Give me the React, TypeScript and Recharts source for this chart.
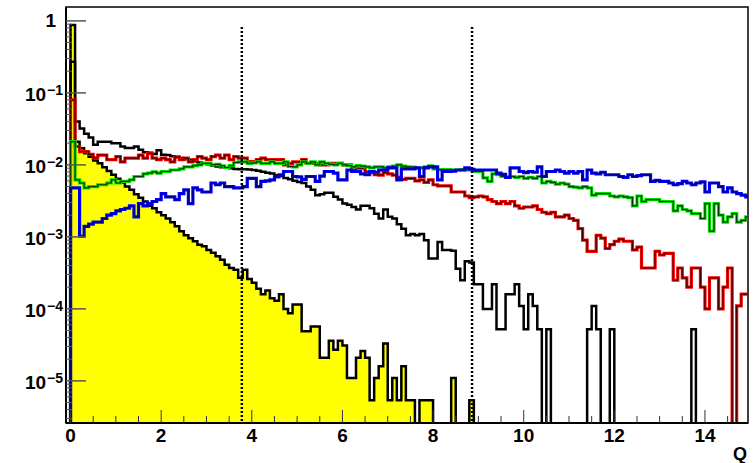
import React from 'react';
import { ComposedChart, Line, Area, XAxis, YAxis, ReferenceLine, ReferenceArea, Label } from 'recharts';

// ---- axis ranges ----
const X_RANGE = [-0.1, 14.95];
const Y_RANGE = [2.6e-6, 1.56];
const FLOOR = 1e-9; // stand-in for empty bins on the log scale

// ---- bins: 150 bins of width 0.1 starting at Q = 0 ----
const BIN_START = 0;
const BIN_WIDTH = 0.1;

// ---- tick values / labels ----
const X_TICKS = [0, 0.5, 1, 1.5, 2, 2.5, 3, 3.5, 4, 4.5, 5, 5.5, 6, 6.5, 7, 7.5, 8, 8.5, 9, 9.5, 10, 10.5, 11, 11.5, 12, 12.5, 13, 13.5, 14, 14.5];
const X_LABELS = [0, 2, 4, 6, 8, 10, 12, 14];
const Y_MAJOR = [1e-5, 1e-4, 1e-3, 1e-2, 1e-1, 1];
const Y_MANTISSAS = [1, 2, 3, 4, 5, 6, 7, 8, 9];
const Y_EXPONENTS = [-6, -5, -4, -3, -2, -1, 0];
const CUT_LINES = [3.78, 8.86];
const CUT_TOP = 0.82;
const X_TITLE = 'Q';

// ---- series (one value per bin) ----
const YELLOW = [
  0.88, 0.021, 0.017, 0.0145, 0.013, 0.0115, 0.0105, 0.0093, 0.0082, 0.0073,
  0.0064, 0.0057, 0.005, 0.0045, 0.0039, 0.0035, 0.0031, 0.0027, 0.0025, 0.0022,
  0.002, 0.0018, 0.0016, 0.0014, 0.0012, 0.00105, 0.00096, 0.00087, 0.00078, 0.00074,
  0.00066, 0.0006, 0.00054, 0.00048, 0.00041, 0.00037, 0.00035, 0.00027, 0.00035, 0.00026,
  0.00023, 0.00019, 0.00016, 0.00018, 0.00014, 0.00013, 0.00016, 0.0001, 8.7e-5, 0.000115,
  0.000115, 4.9e-5, 4.9e-5, 5.7e-5, 5.7e-5, 2.1e-5, 2.1e-5, 3.6e-5, 2.7e-5, 3.6e-5,
  3.1e-5, 1.1e-5, 1.1e-5, 2.1e-5, 2.6e-5, 2.1e-5, 5.4e-6, 1.1e-5, 1.6e-5, 3.3e-5,
  5.4e-6, 1.1e-5, 5.4e-6, 1.6e-5, 5.4e-6, 5.4e-6, 0, 5.4e-6, 5.4e-6, 5.4e-6,
  0, 0, 0, 0, 1.1e-5, 0, 0, 0, 5.4e-6, 0,
  0, 0, 0, 0, 0, 0, 0, 0, 0, 0,
  0, 0, 0, 0, 0, 0, 0, 0, 0, 0,
  0, 0, 0, 0, 0, 0, 0, 0, 0, 0,
  0, 0, 0, 0, 0, 0, 0, 0, 0, 0,
  0, 0, 0, 0, 0, 0, 0, 0, 0, 0,
  0, 0, 0, 0, 0, 0, 0, 0, 0, 0,
];

const BLACK = [
  0.27, 0.04, 0.032, 0.027, 0.024, 0.019, 0.021, 0.021, 0.021, 0.02,
  0.02, 0.018, 0.0172, 0.0172, 0.018, 0.0162, 0.015, 0.0148, 0.0142, 0.016,
  0.0138, 0.0137, 0.0132, 0.013, 0.0125, 0.012, 0.0118, 0.0112, 0.0108, 0.0105,
  0.0102, 0.0098, 0.0095, 0.0093, 0.0092, 0.009, 0.0088, 0.0087, 0.0087, 0.0086,
  0.0085, 0.0083, 0.008, 0.0078, 0.0076, 0.0072, 0.007, 0.0066, 0.0063, 0.006,
  0.0058, 0.0056, 0.005, 0.0045, 0.0038, 0.0039, 0.0041, 0.0041, 0.0036, 0.0033,
  0.0029, 0.0028, 0.0026, 0.0024, 0.0027, 0.0027, 0.0025, 0.0021, 0.0018, 0.0024,
  0.0019, 0.0018, 0.0015, 0.0013, 0.00105, 0.0011, 0.00105, 0.0011, 0.0009, 0.0005,
  0.0005, 0.00085, 0.00066, 0.00066, 0.00064, 0.00036, 0.00025, 0.00046, 0.00044, 0.00022,
  0.00022, 0.0001, 0.0001, 0.00022, 5.2e-5, 5.2e-5, 0.00016, 0.00016, 0.00022, 0.00011,
  5.2e-5, 0.00016, 0.00011, 5.2e-5, 0, 5.2e-5, 0, 0, 0, 0,
  0, 0, 0, 0, 5.2e-5, 0.00011, 5.2e-5, 0, 0, 5.2e-5,
  0, 0, 0, 0, 0, 0, 0, 0, 0, 0,
  0, 0, 0, 0, 0, 0, 0, 5.2e-5, 0, 0,
  0, 0, 0, 0, 0, 0, 0, 0, 0, 0,
];

const RED = [
  0.08, 0.018, 0.0153, 0.0153, 0.014, 0.0125, 0.0137, 0.0137, 0.0118, 0.0118,
  0.013, 0.011, 0.0124, 0.0124, 0.0124, 0.0137, 0.0124, 0.0145, 0.0124, 0.0118,
  0.0124, 0.0118, 0.011, 0.0128, 0.0118, 0.0124, 0.011, 0.0118, 0.013, 0.0124,
  0.0118, 0.013, 0.0137, 0.0124, 0.0137, 0.0118, 0.013, 0.0124, 0.0124, 0.0111,
  0.0111, 0.0118, 0.0124, 0.0118, 0.0118, 0.0118, 0.0118, 0.01, 0.0105, 0.011,
  0.011, 0.0118, 0.0105, 0.0105, 0.0105, 0.01, 0.01, 0.0105, 0.0105, 0.0105,
  0.01, 0.01, 0.0085, 0.009, 0.009, 0.008, 0.0078, 0.0073, 0.0072, 0.0078,
  0.0075, 0.0072, 0.0067, 0.0063, 0.0065, 0.0065, 0.006, 0.0062, 0.0057, 0.0062,
  0.0053, 0.0051, 0.0051, 0.0051, 0.0042, 0.0042, 0.0042, 0.0037, 0.0035, 0.0036,
  0.0037, 0.0036, 0.0033, 0.0031, 0.0029, 0.0031, 0.0029, 0.0031, 0.0027, 0.0025,
  0.0026, 0.0026, 0.0027, 0.0024, 0.0022, 0.0021, 0.0022, 0.0019, 0.0019, 0.002,
  0.0018, 0.0017, 0.0013, 0.0009, 0.00063, 0.00063, 0.00105, 0.00096, 0.00069, 0.00078,
  0.00087, 0.00093, 0.00087, 0.00087, 0.00066, 0.00072, 0.00037, 0.00037, 0.00037, 0.00063,
  0.00056, 0.00059, 0.00059, 0.00025, 0.00037, 0.00027, 0.0002, 0.00037, 0.00037, 0.0002,
  0.0001, 0.00027, 0.00027, 0.0001, 0.0002, 0.00037, 0, 0.00011, 0.00016, 0.00016,
];

const GREEN = [
  0.021, 0.0062, 0.0056, 0.0048, 0.005, 0.005, 0.0053, 0.0053, 0.0056, 0.0062,
  0.0056, 0.0059, 0.0059, 0.0062, 0.0069, 0.0069, 0.0075, 0.0077, 0.008, 0.0077,
  0.0081, 0.0081, 0.0085, 0.0085, 0.0088, 0.0094, 0.0094, 0.0098, 0.01, 0.0105,
  0.0105, 0.01, 0.0102, 0.0097, 0.0092, 0.0098, 0.0108, 0.011, 0.011, 0.0105,
  0.0107, 0.011, 0.0105, 0.0105, 0.011, 0.0105, 0.0105, 0.011, 0.0095, 0.0094,
  0.01, 0.011, 0.0105, 0.011, 0.01, 0.011, 0.0105, 0.0102, 0.01, 0.0105,
  0.01, 0.0098, 0.0094, 0.0098, 0.0096, 0.0094, 0.0091, 0.0094, 0.0094, 0.0091,
  0.0094, 0.0096, 0.01, 0.0096, 0.0094, 0.0093, 0.0091, 0.0091, 0.0094, 0.0097,
  0.0088, 0.0086, 0.0086, 0.0086, 0.0085, 0.0085, 0.0086, 0.0085, 0.0085, 0.0081,
  0.0081, 0.0066, 0.0059, 0.0075, 0.0073, 0.0069, 0.0067, 0.0069, 0.0067, 0.0069,
  0.0065, 0.0067, 0.0065, 0.0069, 0.0056, 0.0059, 0.0057, 0.0054, 0.0056, 0.0054,
  0.005, 0.0049, 0.0048, 0.005, 0.0048, 0.0038, 0.004, 0.004, 0.004, 0.0037,
  0.0036, 0.0037, 0.0036, 0.0035, 0.0027, 0.0037, 0.0031, 0.0033, 0.0033, 0.0033,
  0.0031, 0.0031, 0.0031, 0.0023, 0.0027, 0.0024, 0.0023, 0.0021, 0.0021, 0.0018,
  0.0029, 0.0012, 0.0029, 0.002, 0.0016, 0.0019, 0.0021, 0.0016, 0.0017, 0.0019,
];

const BLUE = [
  0.0048, 0.0048, 0.00102, 0.0014, 0.0015, 0.0016, 0.0016, 0.0018, 0.002, 0.0021,
  0.0023, 0.0024, 0.0025, 0.0027, 0.0019, 0.0029, 0.0027, 0.0029, 0.0031, 0.0033,
  0.004, 0.0036, 0.0036, 0.0033, 0.004, 0.0045, 0.0029, 0.0048, 0.0045, 0.0042,
  0.0042, 0.0056, 0.0053, 0.0056, 0.005, 0.005, 0.0048, 0.0048, 0.005, 0.0065,
  0.0065, 0.005, 0.0059, 0.006, 0.0062, 0.0068, 0.0073, 0.0081, 0.0081, 0.0069,
  0.0068, 0.0063, 0.0069, 0.0069, 0.0059, 0.007, 0.0081, 0.0081, 0.0077, 0.0062,
  0.0062, 0.0085, 0.0081, 0.0081, 0.0075, 0.0073, 0.0081, 0.0079, 0.0085, 0.0085,
  0.0091, 0.0091, 0.0062, 0.0088, 0.0088, 0.0088, 0.0091, 0.0069, 0.0091, 0.0094,
  0.0094, 0.0062, 0.0081, 0.0081, 0.0082, 0.0085, 0.0085, 0.0091, 0.0087, 0.0085,
  0.0085, 0.0085, 0.0085, 0.0085, 0.0077, 0.0074, 0.0067, 0.0091, 0.0091, 0.0081,
  0.0078, 0.0081, 0.0079, 0.0094, 0.0069, 0.0081, 0.0081, 0.0085, 0.0081, 0.0077,
  0.0081, 0.0077, 0.0081, 0.0062, 0.0085, 0.0077, 0.0075, 0.0079, 0.0073, 0.0073,
  0.0073, 0.0069, 0.0067, 0.0073, 0.0069, 0.0071, 0.0073, 0.0073, 0.0059, 0.0061,
  0.0059, 0.0059, 0.0056, 0.0053, 0.0055, 0.0059, 0.0056, 0.0053, 0.0056, 0.0058,
  0.0042, 0.0056, 0.0056, 0.005, 0.0042, 0.0048, 0.0042, 0.004, 0.0038, 0.0036,
];

const FONT = "'Liberation Sans', Arial, Helvetica, sans-serif";

// Build step-histogram rows: one row per lower bin edge, an empty bin before 0,
// and a closing row at the upper edge of the last bin.
function buildRows() {
  const n = YELLOW.length;
  const pick = (arr: number[], i: number) => {
    const v = arr[Math.min(Math.max(i, 0), n - 1)];
    return v > 0 ? v : FLOOR;
  };
  const rows: any[] = [];
  rows.push({ x: +(BIN_START - BIN_WIDTH).toFixed(2), yel: FLOOR, blk: FLOOR, red: FLOOR, grn: FLOOR, blu: FLOOR });
  for (let i = 0; i <= n; i++) {
    const j = i < n ? i : n - 1;
    rows.push({
      x: +(BIN_START + i * BIN_WIDTH).toFixed(2),
      yel: pick(YELLOW, j),
      blk: pick(BLACK, j),
      red: pick(RED, j),
      grn: pick(GREEN, j),
      blu: pick(BLUE, j),
    });
  }
  return rows;
}
const rows = buildRows();

const Y_TICKS: number[] = [];
Y_EXPONENTS.forEach((e) => {
  Y_MANTISSAS.forEach((m) => {
    const v = m * Math.pow(10, e);
    if (v >= Y_RANGE[0] && v <= Y_RANGE[1]) Y_TICKS.push(v);
  });
});

function XTick(props: any) {
  const { x, y, payload } = props;
  const v = payload.value;
  const major = X_LABELS.indexOf(v) >= 0;
  return (
    <g>
      <line x1={x} x2={x} y1={y} y2={y - (major ? 13 : 7)} stroke="#333" strokeWidth={1} />
      {major && (
        <text x={x} y={y + 19} textAnchor="middle" fontFamily={FONT} fontWeight="bold" fontSize={19} fill="#000">
          {v}
        </text>
      )}
    </g>
  );
}

function YTick(props: any) {
  const { x, y, payload } = props;
  const v = payload.value;
  const e = Math.round(Math.log10(v));
  const major = Y_MAJOR.some((m) => Math.abs(Math.log10(m) - Math.log10(v)) < 1e-6);
  return (
    <g>
      <line x1={x} x2={x + (major ? 20 : 6)} y1={y} y2={y} stroke="#555" strokeWidth={major ? 1.5 : 1} />
      {major && e === 0 && (
        <text x={x - 10} y={y + 6} textAnchor="end" fontFamily={FONT} fontWeight="bold" fontSize={19} fill="#000">1</text>
      )}
      {major && e !== 0 && (
        <text x={x - 3} y={y + 8} textAnchor="end" fontFamily={FONT} fontWeight="bold" fontSize={19} fill="#000">
          <tspan>10</tspan>
          <tspan dx={1} dy={-6} fontSize={14}>{'\u2212' + String(-e)}</tspan>
        </text>
      )}
    </g>
  );
}

function QLabel(props: any) {
  const vb = props.viewBox || { x: 66, y: 423, width: 682, height: 40 };
  return (
    <text x={vb.x + vb.width - 1} y={vb.y + 37} textAnchor="end" fontFamily={FONT} fontWeight="bold" fontSize={18} fill="#000">
      {X_TITLE}
    </text>
  );
}

export default function App() {
  return (
    <div style={{ position: 'absolute', left: 0, top: 0, width: 753, height: 463, background: '#fff' }}>
      <ComposedChart width={753} height={463} data={rows} margin={{ top: 7, right: 5, bottom: 0, left: 0 }}>
        <XAxis
          type="number"
          dataKey="x"
          domain={X_RANGE}
          ticks={X_TICKS}
          interval={0}
          allowDataOverflow
          tickLine={false}
          tickSize={0}
          tickMargin={0}
          height={40}
          axisLine={{ stroke: '#000', strokeWidth: 2 }}
          tick={<XTick />}
        >
          <Label content={<QLabel />} />
        </XAxis>
        <YAxis
          type="number"
          scale="log"
          domain={Y_RANGE}
          ticks={Y_TICKS}
          interval={0}
          allowDataOverflow
          width={66}
          tickLine={false}
          tickSize={0}
          tickMargin={0}
          axisLine={{ stroke: '#000', strokeWidth: 2 }}
          tick={<YTick />}
        />
        <Area
          dataKey="yel"
          type="stepAfter"
          baseValue="dataMin"
          fill="#ffff00"
          fillOpacity={1}
          stroke="#000"
          strokeWidth={2.5}
          isAnimationActive={false}
          dot={false}
          activeDot={false}
        />
        <Line dataKey="blk" type="stepAfter" stroke="#000" strokeWidth={2.5} dot={false} activeDot={false} isAnimationActive={false} />
        <Line dataKey="red" type="stepAfter" stroke="#ff0000" strokeWidth={3.2} dot={false} activeDot={false} isAnimationActive={false} />
        <Line dataKey="red" type="stepAfter" stroke="#000" strokeOpacity={0.75} strokeWidth={1.2} dot={false} activeDot={false} isAnimationActive={false} />
        <Line dataKey="grn" type="stepAfter" stroke="#00e000" strokeWidth={3.2} dot={false} activeDot={false} isAnimationActive={false} />
        <Line dataKey="grn" type="stepAfter" stroke="#000" strokeOpacity={0.75} strokeWidth={1.2} dot={false} activeDot={false} isAnimationActive={false} />
        <Line dataKey="blu" type="stepAfter" stroke="#0000ff" strokeWidth={3.2} dot={false} activeDot={false} isAnimationActive={false} />
        <Line dataKey="blu" type="stepAfter" stroke="#000" strokeOpacity={0.5} strokeWidth={1.2} dot={false} activeDot={false} isAnimationActive={false} />
        {CUT_LINES.map((cx) => (
          <ReferenceLine
            key={cx}
            segment={[{ x: cx, y: CUT_TOP }, { x: cx, y: Y_RANGE[0] }]}
            stroke="#000"
            strokeWidth={2.5}
            strokeDasharray="2 2"
          />
        ))}
        <ReferenceArea x1={X_RANGE[0]} x2={X_RANGE[1]} y1={Y_RANGE[0]} y2={Y_RANGE[1]} fill="none" fillOpacity={0} stroke="#000" strokeWidth={1.5} />
      </ComposedChart>
    </div>
  );
}
